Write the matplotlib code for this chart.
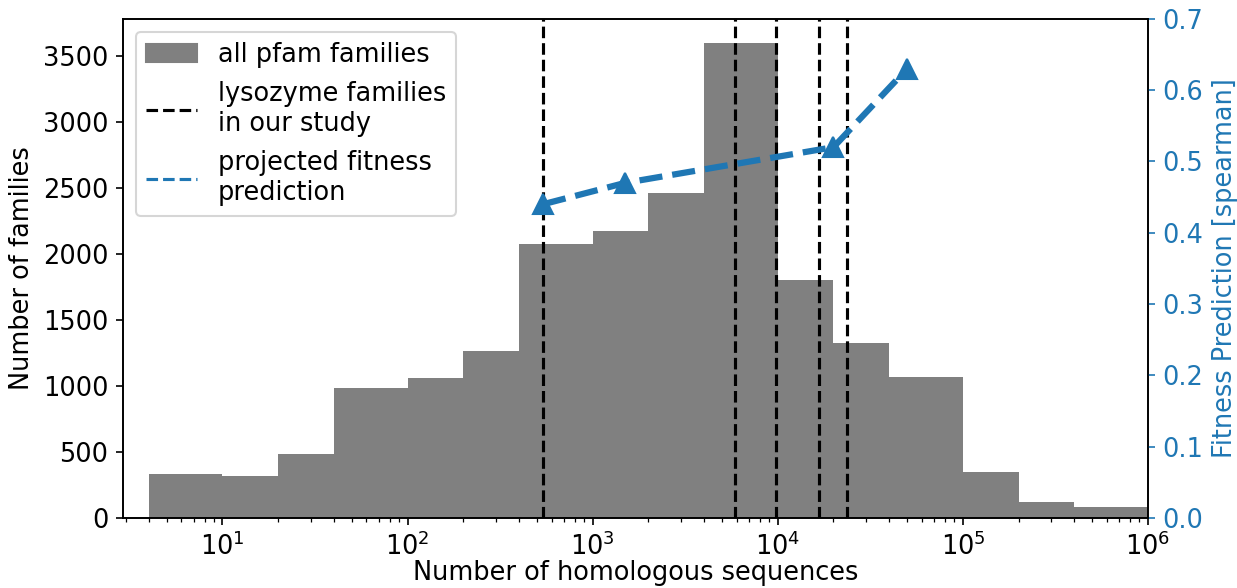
import matplotlib.pyplot as plt
from matplotlib.lines import Line2D
from matplotlib.patches import Patch

plt.rcParams["font.size"] = 12.3

# Pfam family size histogram (log-spaced bins, 1-2-4 per decade)
bin_edges = [4, 10, 20, 40, 100, 200, 400, 1e3, 2e3, 4e3,
             1e4, 2e4, 4e4, 1e5, 2e5, 4e5, 1e6]
family_counts = [330, 320, 485, 985, 1060, 1265, 2075, 2170, 2460, 3600,
                 1800, 1325, 1065, 345, 125, 80]

# number of homologues for the lysozyme families used in the study
lysozyme_sizes = [540, 5850, 9800, 16800, 23800]

# projected spearman vs. MSA depth
proj_n_seqs = [540, 1500, 20000, 50000]
proj_spearman = [0.44, 0.47, 0.52, 0.63]

BLUE = "#1f77b4"

fig = plt.figure(figsize=(1237 / 150, 588 / 150), dpi=150)
ax = fig.add_subplot(111)
fig.subplots_adjust(left=0.0994, right=0.928, bottom=0.119, top=0.968)

ax.hist(bin_edges[:-1], bins=bin_edges, weights=family_counts, color="gray")
for n in lysozyme_sizes:
    ax.axvline(n, color="k", ls="--", lw=1.5)
ax.set_xscale("log")
ax.set_xlim(2.9, 1e6)
ax.set_xlabel("Number of homologous sequences", labelpad=-0.5)
ax.set_ylabel("Number of families")

ax2 = ax.twinx()
ax2.plot(proj_n_seqs, proj_spearman, ls="--", lw=3, color=BLUE,
         marker="^", markersize=10)
ax2.set_ylim(0, 0.7)
ax2.set_ylabel("Fitness Prediction [spearman]", color=BLUE)
ax2.tick_params(axis="y", colors=BLUE)

handles = [
    Patch(color="gray", label="all pfam families"),
    Line2D([], [], color="k", ls="--", lw=1.5,
           label="lysozyme families\nin our study"),
    Line2D([], [], color=BLUE, ls="--", lw=1.5,
           label="projected fitness\nprediction"),
]
ax.legend(handles=handles, loc="upper left")

fig.savefig("out.png", dpi=150)
